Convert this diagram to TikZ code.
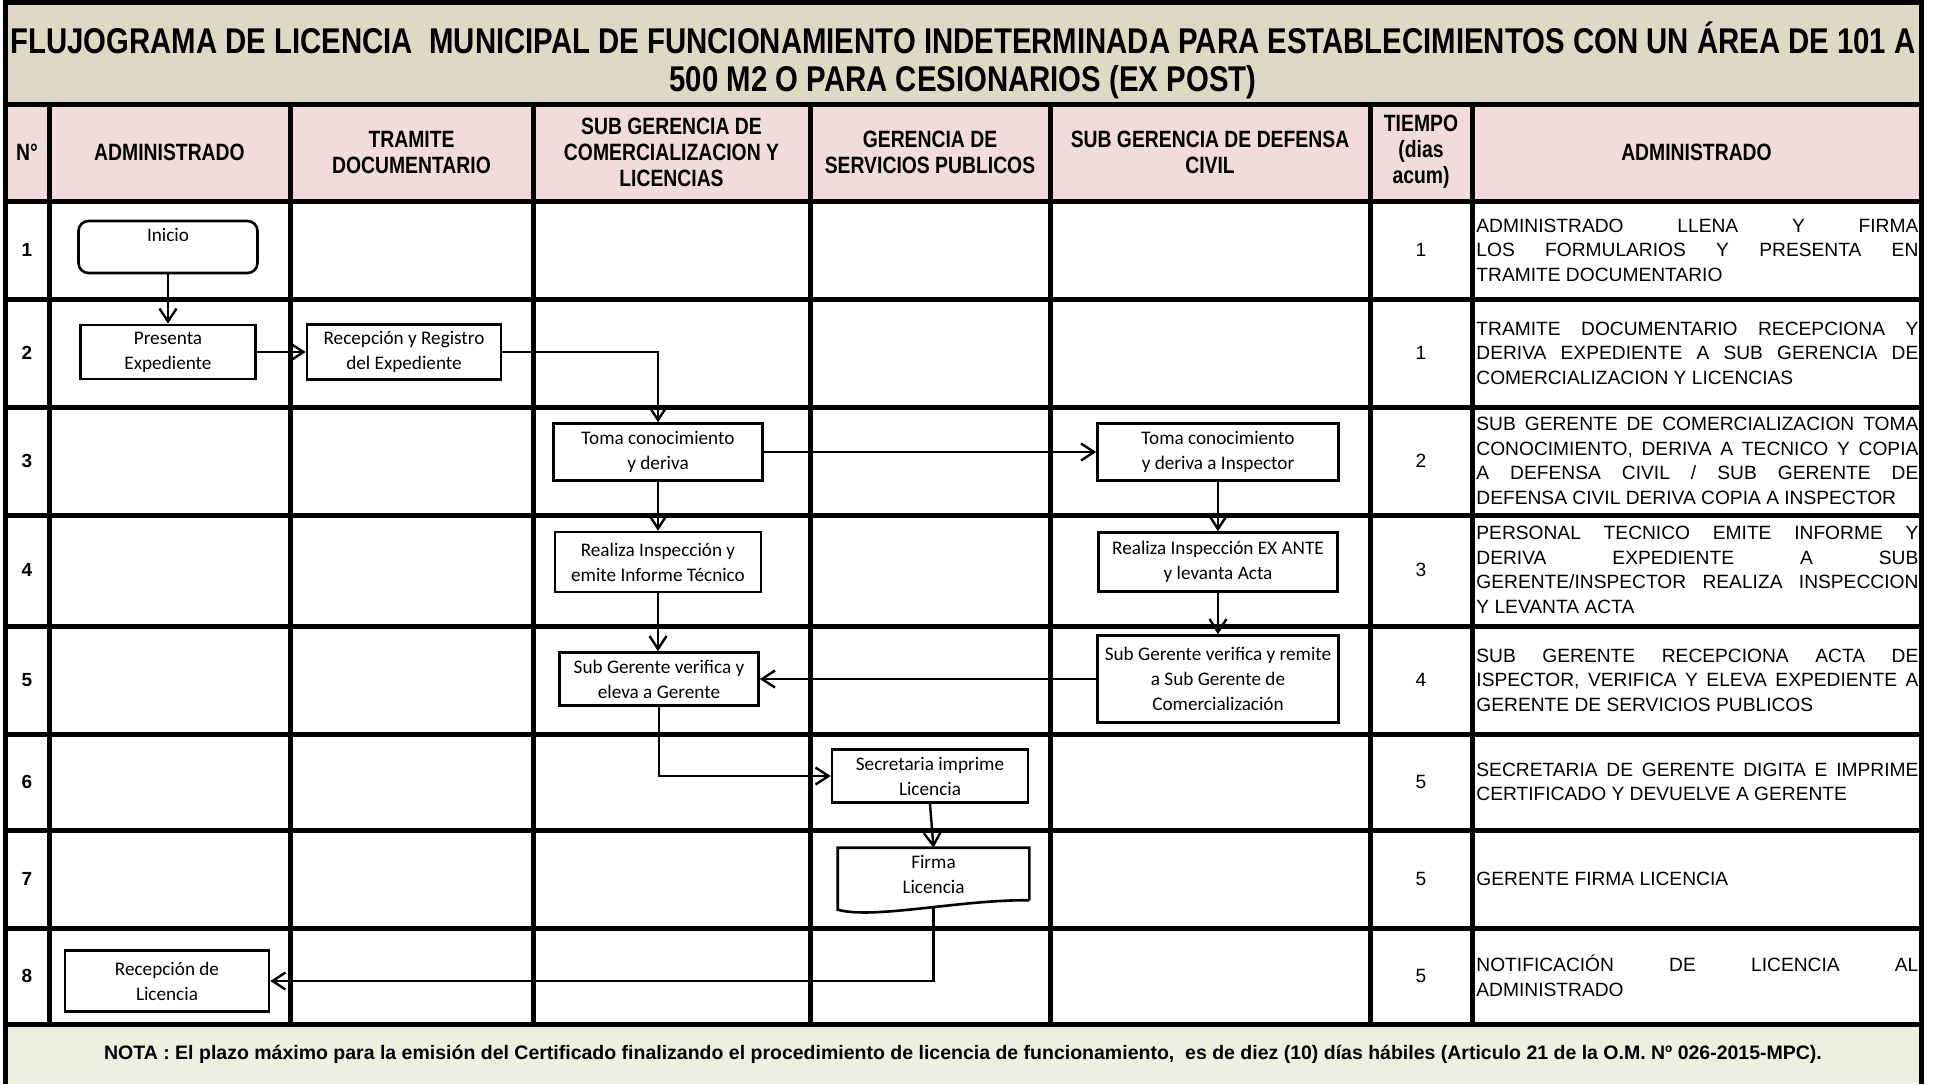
\documentclass[tikz,border=0pt]{standalone}
\usepackage{fontspec}
\setmainfont{Liberation Sans}
\newfontfamily\narrowfont[FakeStretch=0.82]{Liberation Sans}
\newfontfamily\boxfont{Carlito}
\usetikzlibrary{arrows.meta}
\usetikzlibrary{calc}
\usetikzlibrary{positioning}

\hyphenpenalty=10000
\exhyphenpenalty=10000

\definecolor{titlebg}{HTML}{DDD9C4}
\definecolor{headbg}{HTML}{F2DCDB}
\definecolor{notebg}{HTML}{EBF1DE}

\tikzset{
  grid line/.style={line width=2.5pt},
  proc/.style={draw, line width=1.3pt, align=center, inner sep=1pt,
    font=\boxfont\fontsize{9.6}{12.5}\selectfont},
  flow/.style={->, line width=1.2pt},
  titletxt/.style={align=center, font=\narrowfont\bfseries\fontsize{17.9}{19}\selectfont},
  headtxt/.style={align=center, font=\narrowfont\bfseries\fontsize{11.8}{13}\selectfont},
  numtxt/.style={font=\bfseries\fontsize{9.5}{11}\selectfont},
  timetxt/.style={font=\fontsize{9.6}{11}\selectfont},
  desc/.style={anchor=west, text width=221pt, align=justify, inner sep=0pt,
    font=\fontsize{9.6}{12.3}\selectfont},
  notetxt/.style={font=\bfseries\fontsize{9.75}{11}\selectfont},
}

\begin{document}
\begin{tikzpicture}[x=0.5pt, y=-0.5pt, >={Straight Barb[length=6.5pt,width=8.5pt]}]
\useasboundingbox (0,0) rectangle (1935,1084);

% bands
\fill[titlebg] (5,0) rectangle (1921,104);
\fill[headbg] (5,104) rectangle (1921,201);
\fill[notebg] (5,1024) rectangle (1921,1084);

% grid
\foreach \y in {104,201,299,407,515,626,734,830,928,1024}
  \draw[grid line] (5,\y) -- (1921,\y);
\foreach \x in {49,290,533,810,1050,1370,1472}
  \draw[grid line] (\x,104) -- (\x,1024);
\draw[grid line] (5,1084) -- (5,2) -- (1921,2) -- (1921,1084);

% title
\node[titletxt] (title) at (963,60) {FLUJOGRAMA DE LICENCIA\ \ MUNICIPAL DE FUNCIONAMIENTO INDETERMINADA PARA ESTABLECIMIENTOS CON UN ÁREA DE 101 A\\500 M2 O PARA CESIONARIOS (EX POST)};

% headers
\node[headtxt] (hNum) at (27,152) {N°};
\node[headtxt] (hAdm) at (169.5,152) {ADMINISTRADO};
\node[headtxt] (hTram) at (411.5,152) {TRAMITE\\DOCUMENTARIO};
\node[headtxt] (hCom) at (671.5,152) {SUB GERENCIA DE\\COMERCIALIZACION Y\\LICENCIAS};
\node[headtxt] (hServ) at (930,152) {GERENCIA DE\\SERVICIOS PUBLICOS};
\node[headtxt] (hDef) at (1210,152) {SUB GERENCIA DE DEFENSA\\CIVIL};
\node[headtxt] (hTiempo) at (1421,152) {TIEMPO\\(dias\\acum)};
\node[headtxt] (hDesc) at (1696.5,152) {ADMINISTRADO};

% row numbers and days
\foreach \i/\y in {1/250,2/353,3/461,4/570,5/680,6/782,7/879,8/976}
  \node[numtxt] (num\i) at (27,\y) {\i};
\foreach \i/\y/\d in {1/250/1,2/353/1,3/461/2,4/570/3,5/680/4,6/782/5,7/879/5,8/976/5}
  \node[timetxt] (dias\i) at (1421,\y) {\d};

% descriptions
\node[desc] (desc1) at (1476,250) {ADMINISTRADO LLENA Y FIRMA\linebreak LOS FORMULARIOS Y PRESENTA EN\linebreak TRAMITE DOCUMENTARIO};
\node[desc] (desc2) at (1476,353) {TRAMITE DOCUMENTARIO RECEPCIONA Y\linebreak DERIVA EXPEDIENTE A SUB GERENCIA DE\linebreak COMERCIALIZACION Y LICENCIAS};
\node[desc] (desc3) at (1476,461) {SUB GERENTE DE COMERCIALIZACION TOMA\linebreak CONOCIMIENTO, DERIVA A TECNICO Y COPIA\linebreak A DEFENSA CIVIL / SUB GERENTE DE\linebreak DEFENSA CIVIL DERIVA COPIA A INSPECTOR};
\node[desc] (desc4) at (1476,570) {PERSONAL TECNICO EMITE INFORME Y\linebreak DERIVA EXPEDIENTE A SUB\linebreak GERENTE/INSPECTOR REALIZA INSPECCION\linebreak Y LEVANTA ACTA};
\node[desc] (desc5) at (1476,680) {SUB GERENTE RECEPCIONA ACTA DE\linebreak ISPECTOR, VERIFICA Y ELEVA EXPEDIENTE A\linebreak GERENTE DE SERVICIOS PUBLICOS};
\node[desc] (desc6) at (1476,782) {SECRETARIA DE GERENTE DIGITA E IMPRIME\linebreak CERTIFICADO Y DEVUELVE A GERENTE};
\node[desc] (desc7) at (1476,879) {GERENTE FIRMA LICENCIA};
\node[desc] (desc8) at (1476,976) {NOTIFICACIÓN DE LICENCIA AL\linebreak ADMINISTRADO};

% note
\node[notetxt] (nota) at (963,1054) {NOTA : El plazo máximo para la emisión del Certificado finalizando el procedimiento de licencia de funcionamiento,~ es de diez (10) días hábiles (Articulo 21 de la O.M. Nº 026-2015-MPC).};

% flow boxes
\node[proc, rounded corners=5pt, minimum width=89.5pt, minimum height=26pt] (inicio) at (168,247) {};
\node[below=1pt of inicio.north, font=\boxfont\fontsize{9.6}{12.5}\selectfont] (inicioTxt) {Inicio};
\node[proc, minimum width=87.5pt, minimum height=27pt] (presenta) at (168,352) {Presenta\\Expediente};
\node[proc, minimum width=97pt, minimum height=27.5pt] (recreg) at (404,352) {Recepción y Registro\\del Expediente};
\node[proc, minimum width=104.5pt, minimum height=28.5pt] (toma1) at (658,452) {Toma conocimiento\\y deriva};
\node[proc, minimum width=120.5pt, minimum height=28.5pt] (toma2) at (1218,452) {Toma conocimiento\\y deriva a Inspector};
\node[proc, minimum width=103pt, minimum height=30pt] (realiza1) at (658,562) {Realiza Inspección y\\emite Informe Técnico};
\node[proc, minimum width=119.5pt, minimum height=29.5pt] (realiza2) at (1218,562) {Realiza Inspección EX ANTE\\y levanta Acta};
\node[proc, minimum width=99.5pt, minimum height=26.5pt] (sgv) at (659,679) {Sub Gerente verifica y\\eleva a Gerente};
\node[proc, minimum width=120.5pt, minimum height=43.5pt] (sgr) at (1218,679) {Sub Gerente verifica y remite\\a Sub Gerente de\\Comercialización};
\node[proc, minimum width=98pt, minimum height=26.5pt] (secr) at (930,776) {Secretaria imprime\\Licencia};
\node[proc, draw=none, minimum width=94.5pt, minimum height=25pt] (firma) at (933.5,874) {Firma\\Licencia};
\draw[line width=1.3pt] (firma.south east) -- (firma.north east) -- (firma.north west) -- ++(0,62)
  .. controls +(36,10) and +(-68,-1) .. (firma.south east);
\coordinate (firmaEnd) at ($(firma.south)+(0,8)$);
\node[proc, minimum width=102pt, minimum height=30.5pt] (recep) at (167,981) {Recepción de\\Licencia};

% connectors
\draw[flow] (inicio.south) -- (presenta.north);
\draw[flow] (presenta.east) -- (recreg.west);
\draw[flow] (recreg.east) -| (toma1.north);
\draw[flow] (toma1.east) -- (toma2.west);
\draw[flow] (toma1.south) -- (realiza1.north);
\draw[flow] (toma2.south) -- (realiza2.north);
\draw[flow] (realiza1.south) -- (realiza1.south |- sgv.north);
\draw[flow] (realiza2.south) -- (sgr.north);
\draw[flow] (sgr.west) -- (sgr.west -| sgv.east);
\draw[flow] (sgv.south) |- (secr.west);
\draw[flow] (secr.south) -- (firma.north);
\draw[flow] (firmaEnd) |- (recep.east);
\end{tikzpicture}
\end{document}
